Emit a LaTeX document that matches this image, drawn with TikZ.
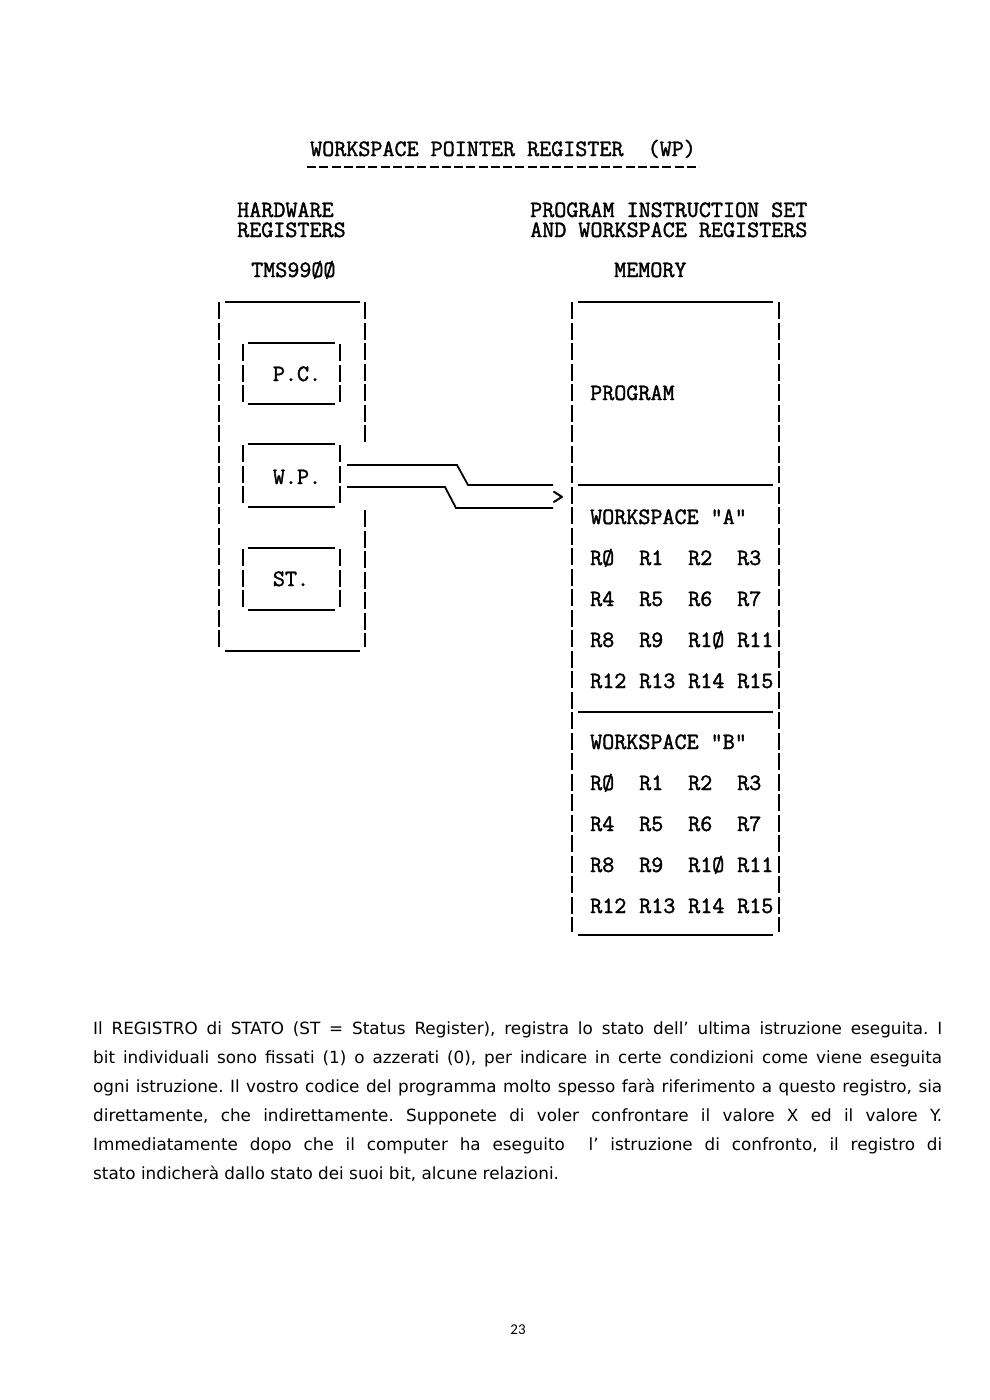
\documentclass[tikz,border=0pt]{standalone}
\usepackage{fontspec}
\setmainfont{DejaVu Sans}
\newfontfamily\monof[FakeBold=1.6]{Latin Modern Mono}
\newfontfamily\bodyf{DejaVu Sans}
\newfontfamily\numf{Carlito}
\frenchspacing
\begin{document}
\begin{tikzpicture}[x=1pt,y=-1pt,
  mono/.style={font=\monof\fontsize{23.4}{20}\selectfont, inner sep=0pt, text height=14pt, text depth=3pt},
  lbl/.style={mono, anchor=base west},
  twoline/.style={font=\monof\fontsize{23.4}{20}\selectfont, inner sep=0pt, align=left, anchor=base west},
  clbl/.style={mono, anchor=base},
  bodyline/.style={font=\bodyf\fontsize{16.8}{20}\selectfont, inner sep=0pt, anchor=base west},
  hbar/.style={line width=1.8pt},
  vbar/.style={line width=1.8pt, dash pattern=on 17pt off 3.5pt},
  dashrule/.style={line width=1.8pt, dash pattern=on 9pt off 3.25pt},
]
\fill[white] (0,0) rectangle (990,1400);
\useasboundingbox (0,0) rectangle (990,1400);

% title
\node[lbl] (title) at (310,156) {WORKSPACE POINTER REGISTER\ \ (WP)};
\draw[dashrule] (307,167) -- (699,167);

% headings (base anchor = baseline of the last line)
\node[twoline] (hw) at (237,237) {HARDWARE\\REGISTERS};
\node[lbl] (tms) at (251,277) {TMS99ØØ};
\node[twoline] (pi) at (530,237) {PROGRAM INSTRUCTION SET\\AND WORKSPACE REGISTERS};
\node[lbl] (mem) at (614,277) {MEMORY};

% hardware registers box
\draw[vbar] (219,302) -- (219,647);
\draw[vbar] (365,302) -- (365,442);
\draw[vbar] (365,510) -- (365,647);
\draw[hbar] (225,302) -- (360,302);
\draw[hbar] (225,651) -- (360,651);

% inner boxes
\foreach \t/\b in {343/404, 444/507, 548/610}{
  \draw[hbar] (248,\t) -- (335,\t);
  \draw[hbar] (248,\b) -- (335,\b);
  \draw[vbar] (243,\t+1) -- (243,\b-2);
  \draw[vbar] (340,\t+1) -- (340,\b-2);
}
\node[clbl] (pc) at (297,381) {P.C.};
\node[clbl] (wp) at (297,484) {W.P.};
\node[clbl] (st) at (291,586) {ST.};

% memory box
\draw[vbar] (572,302) -- (572,932);
\draw[vbar] (779,302) -- (779,932);
\draw[hbar] (578,302) -- (773,302);
\draw[hbar] (578,485) -- (773,485);
\draw[hbar] (578,712) -- (773,712);
\draw[hbar] (578,935) -- (773,935);

\node[lbl] (prog) at (590,400) {PROGRAM};
\node[lbl] (wsa) at (590,524) {WORKSPACE "A"};
\node[lbl] (wsb) at (590,749) {WORKSPACE "B"};

\foreach \ws/\y in {A/565, B/790}{
  \node[lbl] (\ws r0)  at (590,\y) {RØ};
  \node[lbl] (\ws r1)  at (639,\y) {R1};
  \node[lbl] (\ws r2)  at (688,\y) {R2};
  \node[lbl] (\ws r3)  at (737,\y) {R3};
  \node[lbl] (\ws r4)  at (590,\y+41) {R4};
  \node[lbl] (\ws r5)  at (639,\y+41) {R5};
  \node[lbl] (\ws r6)  at (688,\y+41) {R6};
  \node[lbl] (\ws r7)  at (737,\y+41) {R7};
  \node[lbl] (\ws r8)  at (590,\y+82) {R8};
  \node[lbl] (\ws r9)  at (639,\y+82) {R9};
  \node[lbl] (\ws r10) at (688,\y+82) {R1Ø};
  \node[lbl] (\ws r11) at (737,\y+82) {R11};
  \node[lbl] (\ws r12) at (590,\y+123) {R12};
  \node[lbl] (\ws r13) at (639,\y+123) {R13};
  \node[lbl] (\ws r14) at (688,\y+123) {R14};
  \node[lbl] (\ws r15) at (737,\y+123) {R15};
}

% connector W.P. -> workspace A
\coordinate (u0) at (347,465);
\coordinate (u1) at (457,465);
\coordinate (u2) at (468,485);
\coordinate (u3) at (553,485);
\coordinate (l0) at (347,487);
\coordinate (l1) at (445,487);
\coordinate (l2) at (456,508);
\coordinate (l3) at (553,508);
\draw[hbar] (u0) -- (u1) -- (u2) -- (u3);
\draw[hbar] (l0) -- (l1) -- (l2) -- (l3);
\node[clbl] (arr) at (558,504) {>};

% body text
\node[bodyline] (t1) at (93,1034) {\makebox[849pt][s]{Il REGISTRO di STATO (ST = Status Register), registra lo stato dell’ ultima istruzione eseguita. I}};
\node[bodyline] (t2) at (93,1063) {\makebox[849pt][s]{bit individuali sono fissati (1) o azzerati (0), per indicare in certe condizioni come viene eseguita}};
\node[bodyline] (t3) at (93,1092) {\makebox[849pt][s]{ogni istruzione. Il vostro codice del programma molto spesso farà riferimento a questo registro, sia}};
\node[bodyline] (t4) at (93,1121) {\makebox[849pt][s]{direttamente, che indirettamente. Supponete di voler confrontare il valore X ed il valore Y.}};
\node[bodyline] (t5) at (93,1150) {\makebox[849pt][s]{Immediatamente dopo che il computer ha eseguito\ \ l’ istruzione di confronto, il registro di}};
\node[bodyline] (t6) at (93,1179) {stato indicherà dallo stato dei suoi bit, alcune relazioni.};

\node[font=\numf\fontsize{15}{18}\selectfont, inner sep=0pt, anchor=base] (pg) at (518,1334) {23};
\end{tikzpicture}
\end{document}
